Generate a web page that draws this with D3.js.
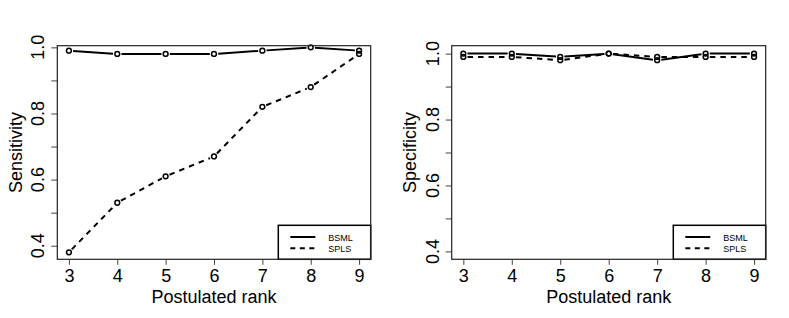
<!DOCTYPE html>
<html>
<head>
<meta charset="utf-8">
<script src="https://cdn.jsdelivr.net/npm/d3@7"></script>
<style>
  body { margin: 0; background: #fff; }
  svg { display: block; font-family: "Liberation Sans", Arial, sans-serif; }
</style>
</head>
<body>
<div id="chart"></div>
<script>
// ranks on the x axis
var ranks = [3, 4, 5, 6, 7, 8, 9]
var seriesNames = ["BSML", "SPLS"]

// sensitivity panel
var sensBSML = [0.99, 0.98, 0.98, 0.98, 0.99, 1.00, 0.99]
var sensSPLS = [0.38, 0.53, 0.61, 0.67, 0.82, 0.88, 0.98]

// specificity panel
var specBSML = [1.00, 1.00, 0.99, 1.00, 0.98, 1.00, 1.00]
var specSPLS = [0.99, 0.99, 0.98, 1.00, 0.99, 0.99, 0.99]

var yTicks = [0.4, 0.6, 0.8, 1.0]
var yMinorTicks = [0.4, 0.5, 0.6, 0.7, 0.8, 0.9, 1.0]

var W = 789, H = 318

var svg = d3.select("#chart").append("svg")
  .attr("width", W)
  .attr("height", H)

var panels = [
  { left: 57.3, right: 370.7, ylabel: "Sensitivity", yDomain: [0.359, 1.005], a: sensBSML, b: sensSPLS },
  { left: 451.7, right: 765.7, ylabel: "Specificity", yDomain: [0.376, 1.024], a: specBSML, b: specSPLS }
]
var plotTop = 45.7, plotBottom = 259.3

var dashes = ["", "5.5,5"]

panels.forEach(function (p) {
  var x = d3.scaleLinear().domain([2.76, 9.24]).range([p.left, p.right])
  var y = d3.scaleLinear().domain(p.yDomain).range([plotBottom, plotTop])

  var g = svg.append("g")

  // x axis
  var xa = g.append("g")
    .attr("transform", `translate(0,${plotBottom})`)
    .call(d3.axisBottom(x).tickValues(ranks).tickSize(5.5).tickPadding(4).tickFormat(d3.format("d")))
  xa.select(".domain").remove()
  xa.selectAll("line").attr("stroke", "#444")
  xa.selectAll("text").attr("font-size", 18).attr("fill", "#000")
    .attr("font-family", "Liberation Sans, Arial, sans-serif")
    .attr("dy", null).attr("y", 22.4)

  // y axis
  var ya = g.append("g")
    .attr("transform", `translate(${p.left},0)`)
    .call(d3.axisLeft(y).tickValues(yMinorTicks).tickSize(6).tickFormat(""))
  ya.select(".domain").remove()
  ya.selectAll("line").attr("stroke", "#444")

  g.selectAll(".ylab")
    .data(yTicks)
    .join("text")
    .attr("class", "ylab")
    .attr("transform", d => `translate(${p.left - 13.2},${y(d)}) rotate(-90)`)
    .attr("text-anchor", "middle")
    .attr("font-size", 18)
    .text(d => d3.format(".1f")(d))

  // titles
  g.append("text")
    .attr("x", (p.left + p.right) / 2)
    .attr("y", 303)
    .attr("text-anchor", "middle")
    .attr("font-size", 18)
    .text("Postulated rank")

  g.append("text")
    .attr("transform", `translate(${p.left - 35.3},${(plotTop + plotBottom) / 2}) rotate(-90)`)
    .attr("text-anchor", "middle")
    .attr("font-size", 18)
    .text(p.ylabel)

  // series: lines with gaps round the points (R type = "b")
  ;[p.a, p.b].forEach(function (vals, si) {
    var pts = ranks.map((r, i) => [x(r), y(vals[i])])
    var gap = 4.2
    var segs = d3.pairs(pts).map(function (pr) {
      var dx = pr[1][0] - pr[0][0], dy = pr[1][1] - pr[0][1]
      var len = Math.sqrt(dx * dx + dy * dy)
      var ux = dx / len, uy = dy / len
      return [[pr[0][0] + ux * gap, pr[0][1] + uy * gap], [pr[1][0] - ux * gap, pr[1][1] - uy * gap]]
    })
    g.selectAll(".seg" + si)
      .data(segs)
      .join("path")
      .attr("class", "seg" + si)
      .attr("d", d3.line())
      .attr("fill", "none")
      .attr("stroke", "#000")
      .attr("stroke-width", 2)
      .attr("stroke-dasharray", dashes[si] || null)

    g.selectAll(".pt" + si)
      .data(pts)
      .join("circle")
      .attr("class", "pt" + si)
      .attr("cx", d => d[0])
      .attr("cy", d => d[1])
      .attr("r", 2.4)
      .attr("fill", "none")
      .attr("stroke", "#000")
      .attr("stroke-width", 1.5)
  })

  // legend
  var lg = g.append("g").attr("transform", `translate(${p.right - 92.4},${plotBottom - 34})`)
  lg.append("rect")
    .attr("width", 92.4).attr("height", 34)
    .attr("fill", "#fff").attr("stroke", "#000").attr("stroke-width", 1.5)
  seriesNames.forEach(function (name, i) {
    lg.append("line")
      .attr("x1", 12).attr("x2", 37)
      .attr("y1", 11.7 + i * 11.3).attr("y2", 11.7 + i * 11.3)
      .attr("stroke", "#000").attr("stroke-width", 2)
      .attr("stroke-dasharray", dashes[i] ? "5,4.5" : null)
    lg.append("text")
      .attr("x", 50).attr("y", 15.3 + i * 11.3)
      .attr("font-size", 9)
      .text(name)
  })

  // plot frame
  g.append("rect")
    .attr("x", p.left).attr("y", plotTop)
    .attr("width", p.right - p.left).attr("height", plotBottom - plotTop)
    .attr("fill", "none").attr("stroke", "#222").attr("stroke-width", 1.2)
})
</script>
</body>
</html>
